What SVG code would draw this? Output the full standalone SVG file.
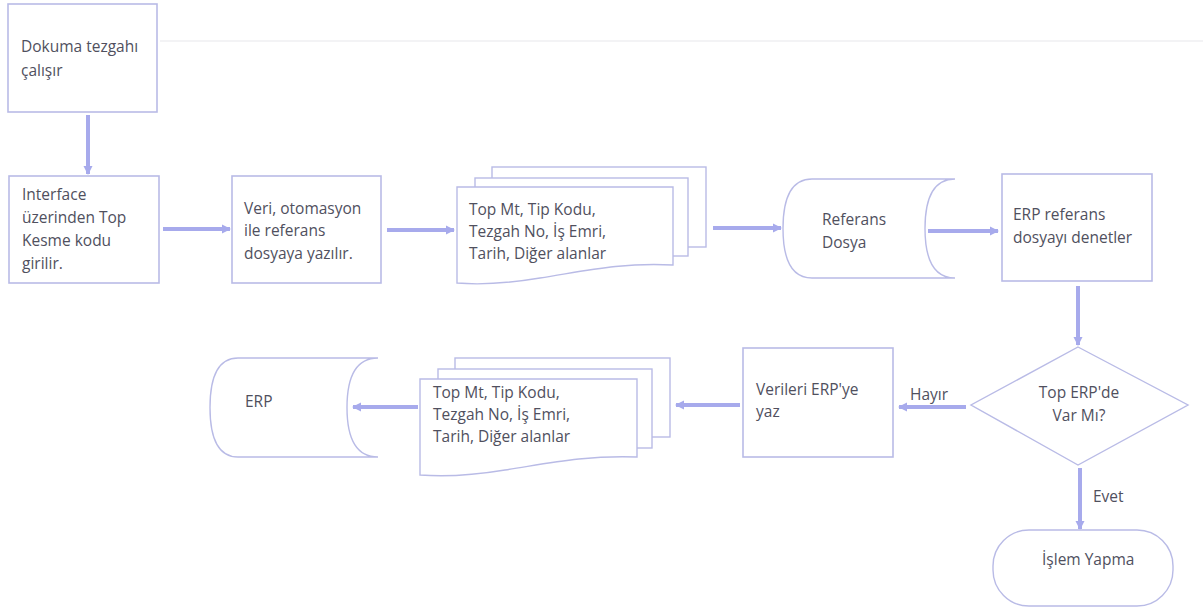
<svg xmlns="http://www.w3.org/2000/svg" width="1203" height="612" viewBox="0 0 1203 612">
  <style>
    .box { fill: #ffffff; stroke: #b9bbe6; stroke-width: 1.6; }
    .doc { fill: #ffffff; stroke: #b9bbe6; stroke-width: 1.4; }
    .lbl { font-family: "Open Sans", "Liberation Sans", sans-serif; font-size: 15.5px; fill: #50505e; }
    .mid { text-anchor: middle; }
    .flow { stroke: #a7aaec; stroke-width: 4; fill: none; marker-end: url(#head); }
  </style>
  <defs>
    <marker id="head" markerUnits="userSpaceOnUse" markerWidth="10" markerHeight="10" refX="8" refY="5" orient="auto">
      <path d="M0,0.5 L9,5 L0,9.5 Z" fill="#a7aaec"/>
    </marker>
  </defs>

  <rect width="1203" height="612" fill="#ffffff"/>
  <!-- faint rule across the top of the sheet -->
  <line x1="160" y1="41" x2="1203" y2="41" stroke="#f3f3f5" stroke-width="2"/>

  <g id="connectors">
    <line class="flow" x1="88" y1="115" x2="88" y2="174"/>
    <line class="flow" x1="163" y1="229" x2="230" y2="229"/>
    <line class="flow" x1="387" y1="230" x2="454" y2="230"/>
    <line class="flow" x1="713" y1="228" x2="781" y2="228"/>
    <line class="flow" x1="928" y1="231" x2="998" y2="231"/>
    <line class="flow" x1="1078" y1="286" x2="1078" y2="345"/>
    <line class="flow" x1="966" y1="407" x2="899" y2="407"/>
    <text class="lbl" x="910" y="400">Hayır</text>
    <line class="flow" x1="740" y1="405" x2="676" y2="405"/>
    <line class="flow" x1="418" y1="407" x2="353" y2="407"/>
    <line class="flow" x1="1080" y1="468" x2="1080" y2="529"/>
    <text class="lbl" x="1093" y="502">Evet</text>
  </g>

  <g id="dokuma">
    <rect class="box" x="8" y="4" width="149" height="108"/>
    <text class="lbl" x="21" y="52">Dokuma tezgahı</text>
    <text class="lbl" x="21" y="76">çalışır</text>
  </g>

  <g id="interface">
    <rect class="box" x="9" y="176" width="150" height="107"/>
    <text class="lbl" x="22" y="200">Interface</text>
    <text class="lbl" x="22" y="223">üzerinden Top</text>
    <text class="lbl" x="22" y="246">Kesme kodu</text>
    <text class="lbl" x="22" y="269">girilir.</text>
  </g>

  <g id="otomasyon">
    <rect class="box" x="232" y="176" width="149" height="107"/>
    <text class="lbl" x="244" y="214">Veri, otomasyon</text>
    <text class="lbl" x="244" y="236">ile referans</text>
    <text class="lbl" x="244" y="259">dosyaya yazılır.</text>
  </g>

  <g id="kayitlar-1">
    <rect class="doc" x="492" y="167" width="214" height="80"/>
    <rect class="doc" x="475" y="178" width="213" height="78"/>
    <path class="doc" d="M457,187 L673,187 L673,265 C620,262 580,272 540,278 C510,283 480,285 457,283 Z"/>
    <text class="lbl" x="469" y="215">Top Mt, Tip Kodu,</text>
    <text class="lbl" x="469" y="237">Tezgah No, İş Emri,</text>
    <text class="lbl" x="469" y="259">Tarih, Diğer alanlar</text>
  </g>

  <g id="referans-dosya">
    <path class="doc" d="M955,179 L812,179 Q783,179 783,228.5 Q783,278 812,278 L955,278 Q925,278 925,228.5 Q925,179 955,179 Z"/>
    <text class="lbl" x="822" y="225">Referans</text>
    <text class="lbl" x="822" y="248">Dosya</text>
  </g>

  <g id="erp-denetim">
    <rect class="box" x="1002" y="174" width="150" height="107"/>
    <text class="lbl" x="1013" y="220">ERP referans</text>
    <text class="lbl" x="1013" y="243">dosyayı denetler</text>
  </g>

  <g id="karar">
    <path class="doc" d="M1078,347 L1188,405 L1078,465 L971,405 Z"/>
    <text class="lbl mid" x="1079" y="398">Top ERP'de</text>
    <text class="lbl mid" x="1079" y="421">Var Mı?</text>
  </g>

  <g id="erp-yaz">
    <rect class="box" x="743" y="348" width="150" height="109"/>
    <text class="lbl" x="756" y="395">Verileri ERP'ye</text>
    <text class="lbl" x="756" y="417">yaz</text>
  </g>

  <g id="kayitlar-2">
    <rect class="doc" x="455" y="358" width="215" height="79"/>
    <rect class="doc" x="438" y="369" width="214" height="79"/>
    <path class="doc" d="M420,379 L637,379 L637,457 C585,455 545,464 505,470 C475,475 445,477 420,475 Z"/>
    <text class="lbl" x="433" y="398">Top Mt, Tip Kodu,</text>
    <text class="lbl" x="433" y="420">Tezgah No, İş Emri,</text>
    <text class="lbl" x="433" y="442">Tarih, Diğer alanlar</text>
  </g>

  <g id="erp">
    <path class="doc" d="M378,358 L238,358 Q210,358 210,407.5 Q210,457 238,457 L378,457 Q347,457 347,407.5 Q347,358 378,358 Z"/>
    <text class="lbl" x="245" y="407">ERP</text>
  </g>

  <g id="islem-yapma">
    <rect class="doc" x="993" y="530" width="180" height="76" rx="36" ry="36"/>
    <text class="lbl" x="1042" y="565">İşlem Yapma</text>
  </g>
</svg>
